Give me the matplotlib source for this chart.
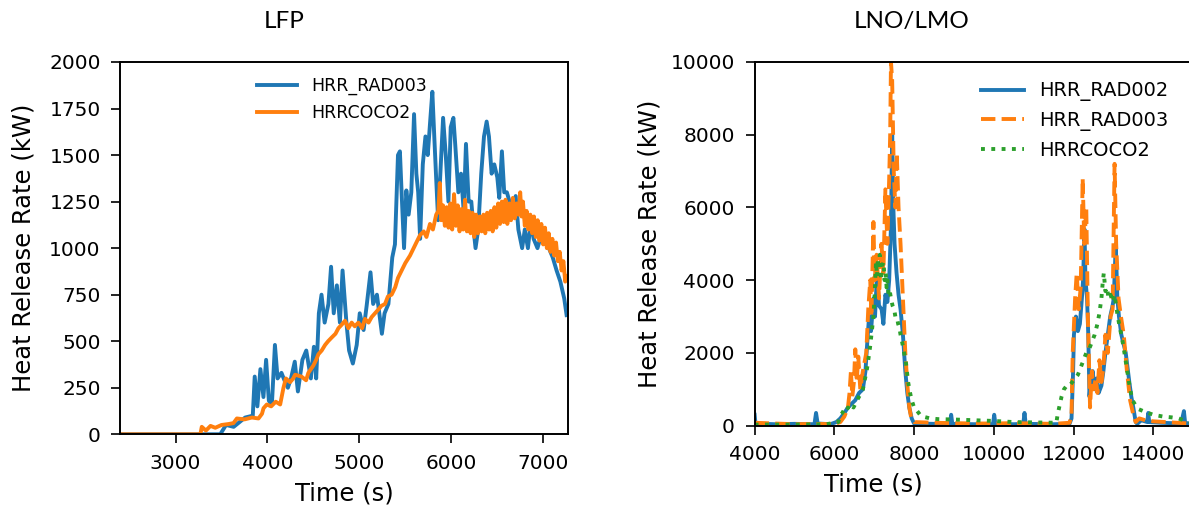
import matplotlib

matplotlib.use("Agg")
import matplotlib.pyplot as plt

# LFP test: heat release rate from radiometer 003 and CO/CO2 calorimetry
lfp_rad003_time = [
    2400, 3300, 3486, 3549, 3632, 3757, 3840, 3861, 3890, 3923, 3956, 3985,
    4015, 4048, 4081, 4110, 4152, 4193, 4222, 4256, 4297, 4331, 4380, 4422,
    4472, 4505, 4530, 4559, 4588, 4622, 4663, 4692, 4721, 4755, 4788, 4817,
    4859, 4888, 4929, 4971, 5004, 5046, 5079, 5121, 5150, 5191, 5245, 5274,
    5316, 5358, 5387, 5420, 5441, 5462, 5486, 5511, 5536, 5565, 5595, 5620,
    5640, 5661, 5690, 5719, 5744, 5773, 5794, 5815, 5836, 5857, 5886, 5911,
    5940, 5969, 5994, 6023, 6044, 6077, 6106, 6135, 6160, 6189, 6218, 6243,
    6264, 6293, 6326, 6356, 6385, 6410, 6439, 6468, 6501, 6522, 6551, 6576,
    6605, 6634, 6667, 6701, 6730, 6771, 6800, 6834, 6867, 6896, 6938, 6967,
    7000, 7033, 7062, 7104, 7146, 7187, 7229, 7255,
]
lfp_rad003_hrr = [
    0, 0, 0, 50, 40, 90, 100, 310, 150, 350, 200, 400,
    180, 160, 480, 300, 330, 280, 250, 300, 390, 230, 400, 450,
    300, 470, 300, 650, 750, 600, 700, 900, 650, 800, 600, 880,
    600, 450, 380, 480, 650, 560, 690, 870, 700, 750, 540, 650,
    700, 950, 1020, 1500, 1520, 1270, 1000, 1310, 1180, 1300, 1720, 1400,
    1300, 1050, 1450, 1600, 1500, 1700, 1840, 1600, 1370, 1150, 1450, 1700,
    1500, 1250, 1650, 1700, 1550, 1300, 1400, 1200, 1560, 1250, 1250, 1100,
    1000, 1100, 1400, 1600, 1680, 1600, 1400, 1450, 1380, 1270, 1520, 1300,
    1300, 1250, 1200, 1280, 1100, 1000, 1100, 1000, 1150, 1050, 1000, 1050,
    1100, 1050, 1000, 950, 880, 820, 730, 640,
]

lfp_coco2_time = [
    2400, 3270, 3285, 3330, 3380, 3432, 3500, 3576, 3630, 3667, 3750, 3830,
    3902, 3940, 3957, 3993, 4040, 4090, 4138, 4174, 4200, 4246, 4280, 4300,
    4370, 4420, 4445, 4500, 4530, 4554, 4590, 4627, 4660, 4699, 4740, 4772,
    4810, 4844, 4880, 4916, 4950, 4989, 5030, 5061, 5100, 5134, 5170, 5206,
    5240, 5279, 5310, 5351, 5390, 5420, 5460, 5500, 5551, 5590, 5620, 5660,
    5700, 5730, 5768, 5800, 5836, 5860, 5875, 5890, 5910, 5930, 5950, 5970,
    5990, 6010, 6030, 6050, 6070, 6090, 6110, 6130, 6150, 6170, 6190, 6210,
    6230, 6250, 6270, 6290, 6310, 6330, 6350, 6370, 6390, 6410, 6430, 6450,
    6470, 6490, 6510, 6530, 6550, 6570, 6590, 6610, 6630, 6650, 6670, 6690,
    6710, 6730, 6750, 6765, 6780, 6800, 6820, 6840, 6860, 6880, 6900, 6920,
    6940, 6960, 6980, 7000, 7020, 7040, 7060, 7080, 7100, 7120, 7140, 7160,
    7180, 7200, 7220, 7240, 7258,
]
lfp_coco2_hrr = [
    0, 0, 40, 20, 45, 35, 50, 55, 60, 85, 80, 90,
    85, 110, 140, 160, 150, 175, 160, 250, 300, 280, 300, 320,
    310, 290, 330, 370, 400, 430, 450, 480, 500, 520, 540, 570,
    590, 610, 570, 600, 580, 600, 570, 620, 600, 630, 650, 670,
    690, 700, 740, 750, 790, 840, 880, 920, 960, 1000, 1030, 1070,
    1090, 1060, 1130, 1100, 1180, 1200, 1350, 1150, 1230, 1120, 1220, 1110,
    1240, 1100, 1290, 1120, 1230, 1090, 1210, 1100, 1260, 1090, 1200, 1080,
    1190, 1060, 1180, 1080, 1170, 1090, 1180, 1080, 1190, 1100, 1200, 1090,
    1220, 1110, 1240, 1130, 1250, 1140, 1260, 1130, 1240, 1150, 1270, 1160,
    1240, 1180, 1300, 1170, 1250, 1120, 1200, 1100, 1180, 1080, 1170, 1060,
    1150, 1040, 1130, 1020, 1110, 1000, 1080, 980, 1050, 960, 1030, 930,
    980, 880, 930, 820, 850,
]

# LNO/LMO test: two radiometers plus CO/CO2 calorimetry
lno_rad002_time = [
    4000, 4020, 4500, 5000, 5500, 5540, 5580, 5900, 6050, 6150, 6250, 6340,
    6430, 6525, 6620, 6715, 6780, 6820, 6870, 6920, 6980, 7020, 7070, 7120,
    7185, 7230, 7280, 7330, 7375, 7420, 7450, 7480, 7510, 7560, 7610, 7660,
    7720, 7780, 7830, 7880, 7940, 8000, 8500, 8900, 8930, 8960, 9500, 9980,
    10010, 10040, 10500, 10740, 10770, 10800, 11500, 11900, 11950, 11990,
    12010, 12060, 12110, 12160, 12210, 12240, 12275, 12300, 12340, 12370,
    12400, 12440, 12480, 12530, 12580, 12630, 12700, 12750, 12800, 12860,
    12920, 12980, 13010, 13060, 13100, 13140, 13200, 13310, 13400, 13450,
    13500, 13560, 13600, 13700, 13850, 13875, 13900, 14200, 14700, 14770,
    14800, 14900,
]
lno_rad002_hrr = [
    300, 60, 40, 50, 40, 350, 60, 40, 100, 200, 350, 500,
    600, 700, 900, 1000, 1500, 2200, 3000, 2600, 3500, 3000, 4200, 3300,
    3200, 2800, 3600, 3400, 4000, 5500, 8000, 6000, 5000, 4200, 3600, 3200,
    2500, 1500, 900, 500, 200, 60, 50, 40, 300, 50, 40, 40,
    300, 50, 40, 50, 350, 50, 40, 50, 200, 1500,
    2500, 3000, 2600, 2800, 3500, 4000, 5400, 4000, 3500, 2500,
    800, 1300, 1500, 1000, 1300, 900, 1100, 1500, 2000, 2500,
    3000, 3300, 3500, 5000, 3500, 3000, 2500, 2000, 1200, 800,
    500, 100, 50, 150, 100, 350, 100, 80, 60, 400,
    80, 60,
]

lno_rad003_time = [
    4000, 4500, 5000, 5500, 6000, 6150, 6250, 6340, 6380, 6415, 6450, 6490,
    6525, 6560, 6600, 6650, 6715, 6800, 6850, 6900, 6930, 6980, 7010, 7060,
    7120, 7180, 7230, 7280, 7330, 7375, 7400, 7420, 7450, 7490, 7530, 7565,
    7610, 7660, 7720, 7780, 7840, 7880, 7930, 8000, 8500, 9000, 9500, 10000,
    10500, 11000, 11500, 11900, 11950, 11980, 12040, 12080, 12130, 12180,
    12230, 12270, 12320, 12360, 12415, 12460, 12500, 12560, 12600, 12650,
    12700, 12750, 12800, 12860, 12930, 12980, 13030, 13070, 13130, 13190,
    13260, 13340, 13420, 13500, 13560, 13650, 13800, 14000, 14300, 14600,
    14900,
]
lno_rad003_hrr = [
    80, 60, 40, 50, 40, 100, 250, 500, 900, 1500, 800, 1200,
    2100, 1200, 1900, 1000, 1500, 2000, 3200, 4000, 3000, 5600, 4000, 4700,
    3500, 5000, 4200, 6500, 5000, 6800, 8000, 10000, 9500, 7000, 6000, 7500,
    6000, 5000, 3500, 2000, 1000, 500, 200, 100, 80, 70, 60, 60,
    70, 60, 50, 80, 300, 2000, 3500, 4200, 3200, 3800,
    6800, 5000, 6000, 3000, 500, 1500, 1000, 1300, 900, 1800,
    1200, 1600, 2500, 2000, 3000, 3200, 7200, 5000, 3500, 3000,
    2500, 1500, 700, 300, 100, 200, 150, 120, 100, 80,
    60,
]

lno_coco2_time = [
    4000, 5000, 5800, 6100, 6150, 6200, 6250, 6300, 6340, 6400, 6430, 6480,
    6525, 6570, 6620, 6670, 6715, 6760, 6810, 6850, 6900, 6940, 6980, 7010,
    7045, 7070, 7090, 7110, 7140, 7170, 7200, 7235, 7260, 7290, 7310, 7330,
    7360, 7390, 7420, 7460, 7500, 7530, 7565, 7600, 7630, 7660, 7700, 7750,
    7800, 7850, 7900, 7940, 8000, 8080, 8150, 8220, 8400, 8600, 9000, 9500,
    10000, 10485, 11000, 11570, 11600, 11640, 11700, 11760, 11830, 11900,
    11970, 12040, 12110, 12180, 12250, 12320, 12390, 12460, 12530, 12600,
    12650, 12700, 12730, 12760, 12800, 12840, 12880, 12930, 12980, 13030,
    13070, 13110, 13180, 13250, 13320, 13390, 13440, 13480, 13560, 13640,
    13750, 13875, 14000, 14250, 14450, 14630, 14900,
]
lno_coco2_hrr = [
    30, 30, 40, 100, 300, 350, 450, 400, 500, 450, 550, 500,
    600, 700, 800, 900, 1000, 1250, 1500, 1800, 2200, 2600, 3000, 3600,
    4500, 4100, 4600, 4300, 4700, 4000, 4400, 4500, 4000, 4200, 3800, 4000,
    3600, 3700, 3500, 3300, 3200, 3000, 3000, 2800, 2700, 2500, 2300, 2000,
    1700, 1200, 900, 700, 500, 400, 300, 250, 200, 180, 170, 150,
    130, 100, 90, 80, 300, 500, 800, 1000, 1100, 1100,
    1200, 1300, 1400, 1600, 1800, 2000, 2100, 2300, 2500, 2800,
    3100, 3500, 3900, 4200, 3700, 3800, 3500, 3600, 3400, 3600,
    3300, 3000, 2600, 2200, 1700, 1200, 900, 700, 550, 450,
    400, 350, 300, 250, 230, 200, 100,
]

BLUE = "#1f77b4"
ORANGE = "#ff7f0e"
GREEN = "#2ca02c"


def style_axes(ax):
    """Apply the shared tick and spine styling."""
    for spine in ax.spines.values():
        spine.set_linewidth(1.4)
    ax.tick_params(labelsize=14.5, length=6.7, width=1.2, pad=7.5)


def plot_lfp(ax):
    """Draw the LFP heat release rate comparison."""
    ax.plot(lfp_rad003_time, lfp_rad003_hrr, color=BLUE, lw=2.8, label="HRR_RAD003")
    ax.plot(lfp_coco2_time, lfp_coco2_hrr, color=ORANGE, lw=2.8, label="HRRCOCO2")
    ax.set_xlim(2400, 7270)
    ax.set_ylim(0, 2000)
    ax.set_xticks([3000, 4000, 5000, 6000, 7000])
    ax.set_yticks(range(0, 2001, 250))
    ax.set_xlabel("Time (s)", fontsize=17.5)
    ax.set_ylabel("Heat Release Rate (kW)", fontsize=17.5)
    ax.xaxis.set_label_coords(0.5, -0.128)
    ax.yaxis.set_label_coords(-0.19, 0.5)
    style_axes(ax)
    ax.legend(
        loc="upper left",
        bbox_to_anchor=(0.29, 0.979),
        frameon=False,
        fontsize=12.5,
        handlelength=2.3,
        borderaxespad=0.0,
    )


def plot_lno(ax):
    """Draw the LNO/LMO heat release rate comparison."""
    ax.plot(lno_rad002_time, lno_rad002_hrr, color=BLUE, lw=2.8, ls="-",
            label="HRR_RAD002")
    ax.plot(lno_rad003_time, lno_rad003_hrr, color=ORANGE, lw=2.8, ls="--",
            label="HRR_RAD003")
    ax.plot(lno_coco2_time, lno_coco2_hrr, color=GREEN, lw=2.8, ls=":",
            label="HRRCOCO2")
    ax.set_xlim(4000, 15500)
    ax.set_ylim(0, 10000)
    ax.set_xticks(range(4000, 14001, 2000))
    ax.set_yticks(range(0, 10001, 2000))
    ax.set_xlabel("Time (s)", fontsize=17.5)
    ax.set_ylabel("Heat Release Rate (kW)", fontsize=17.5)
    ax.xaxis.set_label_coords(0.26, -0.13)
    ax.yaxis.set_label_coords(-0.203, 0.5)
    style_axes(ax)
    ax.legend(
        loc="upper left",
        bbox_to_anchor=(0.477, 0.968),
        frameon=False,
        fontsize=14,
        handlelength=2.2,
        borderaxespad=0.0,
    )


def main():
    fig = plt.figure(figsize=(11.89, 5.09), dpi=100)
    ax_lfp = fig.add_axes([0.1013, 0.1468, 0.3764, 0.7314])
    ax_lno = fig.add_axes([0.6347, 0.1637, 0.3855, 0.7145])

    plot_lfp(ax_lfp)
    plot_lno(ax_lno)

    fig.text(0.239, 0.958, "LFP", ha="center", va="center",
             fontsize=17.5, family="Lato")
    fig.text(0.767, 0.958, "LNO/LMO", ha="center", va="center",
             fontsize=17.5, family="Lato")

    fig.savefig("out.png", dpi=100)
    plt.close(fig)


if __name__ == "__main__":
    main()
